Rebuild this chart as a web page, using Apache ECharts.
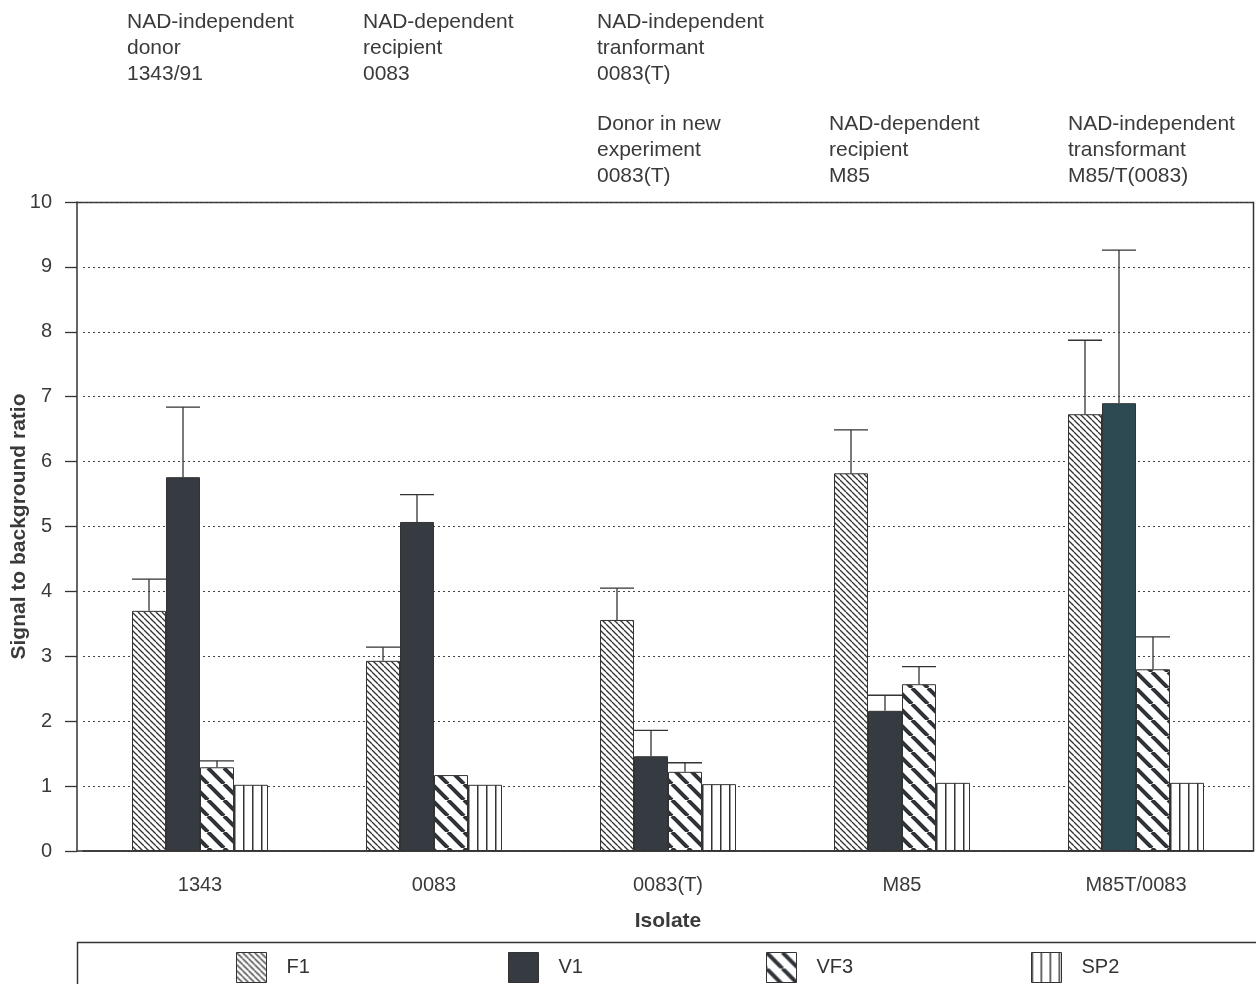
<!DOCTYPE html>
<html>
<head>
<meta charset="utf-8">
<script src="https://cdn.jsdelivr.net/npm/echarts@6/dist/echarts.min.js"></script>
<style>
  html, body { margin: 0; padding: 0; background: #fff; }
  #chart { width: 1256px; height: 984px; }
</style>
</head>
<body>
<div id="chart"></div>
<script>
// ===== data =====
const isolates = ['1343', '0083', '0083(T)', 'M85', 'M85T/0083']
const seriesNames = ['F1', 'V1', 'VF3', 'SP2']

const f1 = [3.70, 2.93, 3.56, 5.82, 6.73]
const v1 = [5.76, 5.07, 1.46, 2.16, 6.90]
const vf3 = [1.29, 1.17, 1.22, 2.57, 2.80]
const sp2 = [1.02, 1.02, 1.03, 1.05, 1.05]

// top of each error bar (null = no bar drawn)
const f1Err = [4.19, 3.14, 4.05, 6.49, 7.87]
const v1Err = [6.84, 5.49, 1.86, 2.40, 9.26]
const vf3Err = [1.39, null, 1.36, 2.84, 3.30]
const sp2Err = [null, null, null, null, null]

const topNotes = [
  ['NAD-independent', 'donor', '1343/91'],
  ['NAD-dependent', 'recipient', '0083'],
  ['NAD-independent', 'tranformant', '0083(T)'],
  ['Donor in new', 'experiment', '0083(T)'],
  ['NAD-dependent', 'recipient', 'M85'],
  ['NAD-independent', 'transformant', 'M85/T(0083)'],
]

// ===== hatch patterns =====
function diagPattern(size, width, color) {
  const c = document.createElement('canvas')
  c.width = size; c.height = size
  const ctx = c.getContext('2d')
  ctx.fillStyle = '#fff'
  ctx.fillRect(0, 0, size, size)
  ctx.strokeStyle = color
  ctx.lineWidth = width
  for (let k = -1; k <= 1; k++) {
    ctx.beginPath()
    ctx.moveTo(k * size, 0)
    ctx.lineTo(k * size + size, size)
    ctx.stroke()
  }
  return { image: c, repeat: 'repeat' }
}

function vertPattern(size, width, color) {
  const c = document.createElement('canvas')
  c.width = size; c.height = 4
  const ctx = c.getContext('2d')
  ctx.fillStyle = '#fff'
  ctx.fillRect(0, 0, size, 4)
  ctx.fillStyle = color
  ctx.fillRect(0, 0, width, 4)
  return { image: c, repeat: 'repeat' }
}

const INK = '#333'
const BAR_W = 34
const FONT = '"Liberation Sans", Arial, Helvetica, sans-serif'

const fills = [
  diagPattern(6, 1.3, '#333'),
  '#363b41',
  diagPattern(16, 4, '#2f3338'),
  vertPattern(9, 1.5, '#333'),
]

const values = [f1, v1, vf3, sp2]
const errTops = [f1Err, v1Err, vf3Err, sp2Err]

// error bar points: [category, mean, top, seriesIdx]
const errData = []
errTops.forEach((arr, k) => {
  arr.forEach((top, i) => {
    if (top != null) errData.push([i, values[k][i], top, k])
  })
})

const chart = echarts.init(document.getElementById('chart'))

const barSeries = seriesNames.map((name, k) => ({
  name,
  type: 'bar',
  barWidth: BAR_W,
  barGap: '0%',
  data: values[k].map((v, i) =>
    // last V1 bar looks a bit teal in the print
    (k === 1 && i === 4) ? { value: v, itemStyle: { color: '#2d4a53' } } : v),
  itemStyle: { color: fills[k], borderColor: INK, borderWidth: 1 },
  emphasis: { disabled: true },
  z: 3,
}))

const errorSeries = {
  type: 'custom',
  data: errData,
  z: 4,
  silent: true,
  encode: { x: 0, y: [1, 2] },
  renderItem: (params, api) => {
    const cat = api.value(0)
    const base = api.coord([cat, api.value(1)])
    const top = api.coord([cat, api.value(2)])
    const x = base[0] + (api.value(3) - 1.5) * BAR_W
    const style = { stroke: INK, lineWidth: 1.3 }
    return {
      type: 'group',
      children: [
        { type: 'line', shape: { x1: x, y1: base[1], x2: x, y2: top[1] }, style },
        { type: 'line', shape: { x1: x - BAR_W / 2, y1: top[1], x2: x + BAR_W / 2, y2: top[1] }, style },
      ],
    }
  },
}

const notePos = [
  [127, 9], [363, 9], [597, 9],
  [597, 111], [829, 111], [1068, 111],
]

const graphics = topNotes.map((lines, i) => ({
  type: 'text',
  left: notePos[i][0],
  top: notePos[i][1],
  style: {
    text: lines.join('\n'),
    font: '21px ' + FONT,
    lineHeight: 26,
    fill: '#3a3a3a',
  },
}))

// plot frame (top + right + bottom stub) and legend box
graphics.push({
  type: 'polyline',
  shape: { points: [[77, 851], [1253.5, 851], [1253.5, 202.5], [77, 202.5]] },
  style: { fill: 'none', stroke: INK, lineWidth: 1.5 },
  z: 0,
})
graphics.push({
  type: 'rect',
  shape: { x: 77.5, y: 942.5, width: 1200, height: 60 },
  style: { fill: 'none', stroke: INK, lineWidth: 1.5 },
  z: 0,
})

const legendLeft = [231, 503, 761, 1026]
const legends = seriesNames.map((name, i) => ({
  data: [name],
  left: legendLeft[i],
  top: 947,
  itemWidth: 30,
  itemHeight: 30,
  icon: 'rect',
  selectedMode: false,
  itemStyle: { borderColor: INK, borderWidth: 1 },
  textStyle: { fontSize: 20, color: '#333', padding: [0, 0, 0, 15] },
}))

chart.setOption({
  backgroundColor: '#fff',
  animation: false,
  textStyle: { fontFamily: FONT },
  grid: {
    left: 83, right: 3, top: 202, bottom: 133,
    outerBoundsMode: 'none',
    containLabel: false,
    show: false,
  },
  legend: legends,
  xAxis: {
    type: 'category',
    data: isolates,
    name: 'Isolate',
    nameLocation: 'middle',
    nameGap: 60,
    nameTextStyle: { fontSize: 21, fontWeight: 'bold', color: '#3a3a3a' },
    axisLine: { lineStyle: { color: INK, width: 1.5 } },
    axisTick: { length: 9, lineStyle: { color: INK, width: 1.3 } },
    axisLabel: { fontSize: 20, color: '#3a3a3a', margin: 24 },
  },
  yAxis: {
    type: 'value',
    min: 0,
    max: 10,
    interval: 1,
    offset: 6,
    name: 'Signal to background ratio',
    nameLocation: 'middle',
    nameGap: 47,
    nameMoveOverlap: false,
    nameTextStyle: { fontSize: 21, fontWeight: 'bold', color: '#3a3a3a' },
    axisLine: { show: true, lineStyle: { color: INK, width: 1.5 } },
    axisTick: { show: true, length: 12, lineStyle: { color: INK, width: 1.3 } },
    axisLabel: { fontSize: 20, color: '#3a3a3a', margin: 25 },
    splitLine: { lineStyle: { color: '#444', type: [2, 3], width: 1.2 } },
  },
  series: [...barSeries, errorSeries],
  graphic: graphics,
})
</script>
</body>
</html>
